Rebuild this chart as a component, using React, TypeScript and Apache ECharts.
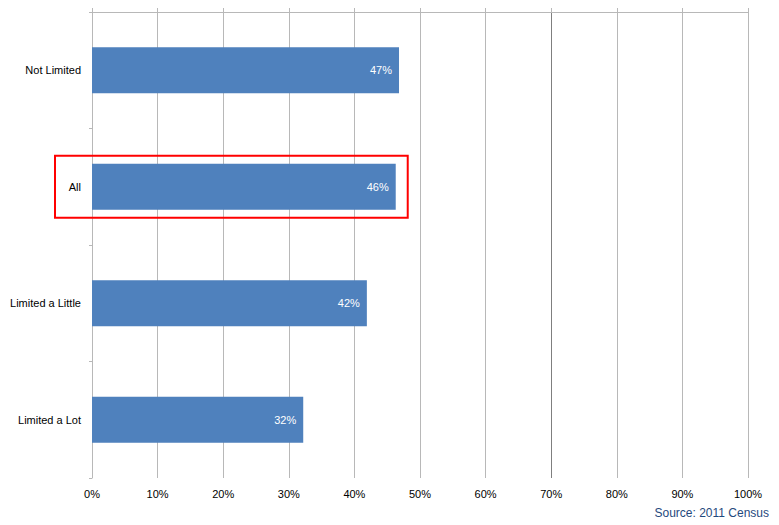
import { useEffect, useRef } from "react";
import * as echarts from "echarts";

// categories, top to bottom
const categories = ["Not Limited", "All", "Limited a Little", "Limited a Lot"];
// share in %
const values = [46.8, 46.3, 41.9, 32.2];
const highlighted = "All";
const sourceNote = "Source: 2011 Census";

const FONT = "Liberation Sans, Arial, sans-serif";
const GRID_GRAY = "#b8b8b8";

function App() {
  const chartRef = useRef<HTMLDivElement>(null);

  useEffect(() => {
    if (!chartRef.current) return;
    const chart = echarts.init(chartRef.current, undefined, { renderer: "svg" });

    // 70% line is drawn darker in the original
    const splitColors = Array.from({ length: 11 }, (_, i) =>
      i === 7 ? "#7f7f7f" : GRID_GRAY
    );

    const option: echarts.EChartsOption = {
      animation: false,
      backgroundColor: "#ffffff",
      textStyle: { fontFamily: FONT },
      grid: { left: 92, right: 31, top: 12, bottom: 47, containLabel: false },
      xAxis: [
        {
          type: "value",
          position: "top",
          min: 0,
          max: 100,
          interval: 10,
          axisLine: { show: true, lineStyle: { color: GRID_GRAY, width: 1 } },
          axisTick: { show: true, length: 4, lineStyle: { color: GRID_GRAY } },
          axisLabel: { show: false },
          splitLine: { show: true, lineStyle: { color: splitColors, width: 1 } },
        },
        {
          type: "value",
          position: "bottom",
          min: 0,
          max: 100,
          interval: 10,
          axisLine: { show: false },
          axisTick: { show: false },
          splitLine: { show: false },
          axisLabel: {
            formatter: "{value}%",
            color: "#000000",
            fontSize: 11,
            fontFamily: FONT,
            margin: 10,
          },
        },
      ],
      yAxis: {
        type: "category",
        data: categories,
        inverse: true,
        axisLine: { show: true, lineStyle: { color: GRID_GRAY, width: 1 } },
        axisTick: { show: true, length: 3, lineStyle: { color: GRID_GRAY } },
        axisLabel: { color: "#000000", fontSize: 11, fontFamily: FONT, margin: 11 },
        splitLine: { show: false },
      },
      series: [
        {
          type: "bar",
          xAxisIndex: 0,
          data: values,
          barWidth: 46,
          itemStyle: { color: "#4f81bd" },
          label: {
            show: true,
            position: "insideRight",
            distance: 7,
            color: "#ffffff",
            fontSize: 11,
            fontFamily: FONT,
            formatter: (p: any) => `${Math.round(p.value)}%`,
          },
        },
      ],
      graphic: [
        {
          type: "text",
          right: 10,
          bottom: 6,
          style: {
            text: sourceNote,
            fill: "#1f497d",
            fontSize: 12,
            fontFamily: FONT,
          },
        },
      ],
    };

    chart.setOption(option);

    // red frame around the highlighted row, placed from the chart's own scales
    const idx = categories.indexOf(highlighted);
    const cy = chart.convertToPixel({ yAxisIndex: 0 }, highlighted) as number;
    const xEnd = chart.convertToPixel({ xAxisIndex: 0 }, values[idx]) as number;
    const x0 = chart.convertToPixel({ xAxisIndex: 0 }, 0) as number;
    chart.setOption({
      graphic: [
        {
          type: "text",
          right: 10,
          bottom: 6,
          style: {
            text: sourceNote,
            fill: "#1f497d",
            fontSize: 12,
            fontFamily: FONT,
          },
        },
        {
          type: "rect",
          shape: { x: x0 - 37, y: cy - 31, width: xEnd + 12 - (x0 - 37), height: 62 },
          style: { fill: "none", stroke: "#ff0000", lineWidth: 2 },
          z: 100,
        },
      ],
    });

    return () => {
      chart.dispose();
    };
  }, []);

  return (
    <div
      ref={chartRef}
      style={{ position: "fixed", top: 0, left: 0, width: 779, height: 525 }}
    />
  );
}

export default App;
